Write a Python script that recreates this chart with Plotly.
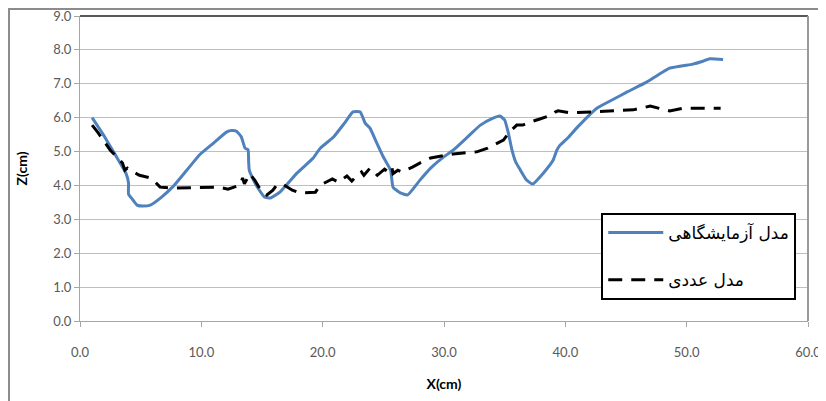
import plotly.graph_objects as go

# Experimental model (blue)
x_exp = [1.0, 2.0, 3.0, 3.8, 4.0, 4.0, 4.3, 4.7, 5.2, 5.8, 6.7, 7.7, 8.8, 9.9, 11.0, 12.1, 12.5, 12.9,
         13.3, 13.6, 13.85, 13.9, 13.95, 14.3, 14.8, 15.2, 15.7, 16.5, 17.9, 19.2, 19.8, 20.9, 21.8,
         22.5, 23.1, 23.5, 23.9, 24.4, 25.0, 25.6, 25.8, 26.4, 27.0, 28.0, 28.9, 30.0, 30.75, 32.0,
         33.0, 34.0, 34.6, 35.0, 35.3, 35.6, 35.9, 36.3, 36.8, 37.3, 38.2, 39.0, 39.3, 39.5, 40.2,
         41.0, 42.6, 44.0, 45.1, 46.7, 48.6, 50.5, 51.2, 51.9, 53.0]
z_exp = [6.0, 5.45, 4.85, 4.35, 4.07, 3.75, 3.6, 3.42, 3.39, 3.42, 3.65, 3.98, 4.45, 4.92, 5.25, 5.58,
         5.62, 5.6, 5.43, 5.1, 5.05, 4.7, 4.45, 4.16, 3.85, 3.66, 3.63, 3.81, 4.37, 4.8, 5.1, 5.43,
         5.84, 6.17, 6.17, 5.84, 5.69, 5.3, 4.84, 4.45, 3.95, 3.78, 3.72, 4.15, 4.51, 4.85, 5.04,
         5.45, 5.78, 5.98, 6.05, 5.93, 5.55, 5.05, 4.7, 4.45, 4.16, 4.04, 4.37, 4.75, 5.04, 5.16,
         5.4, 5.72, 6.28, 6.55, 6.76, 7.05, 7.46, 7.58, 7.65, 7.74, 7.72]

# Numerical model (black dashed)
x_num = [1.0, 1.5, 2.5, 3.5, 3.7, 3.9, 4.1, 4.9, 5.8, 6.2, 6.6, 7.7, 11.5, 12.2, 13.2, 13.4, 13.55,
         14.0, 14.4, 14.8, 15.4, 15.9, 16.2, 16.7, 17.5, 18.1, 19.4, 19.8, 20.8, 21.3, 22.0, 22.4,
         22.8, 23.2, 23.4, 23.9, 24.5, 25.1, 25.4, 25.7, 25.8, 26.2, 26.5, 27.4, 28.0, 28.9, 30.75,
         32.7, 33.6, 34.5, 34.9, 35.4, 36.0, 36.5, 37.1, 37.9, 38.9, 39.2, 39.4, 40.4, 42.3, 43.9,
         45.6, 47.0, 47.8, 48.6, 49.7, 52.8]
z_num = [5.78, 5.55, 5.04, 4.66, 4.45, 4.51, 4.45, 4.3, 4.22, 4.1, 3.95, 3.92, 3.95, 3.89, 4.01,
         4.22, 4.05, 4.34, 4.16, 3.92, 3.72, 3.86, 4.01, 4.04, 3.86, 3.78, 3.8, 4.01, 4.19, 4.1,
         4.28, 4.13, 4.28, 4.4, 4.3, 4.51, 4.3, 4.48, 4.4, 4.54, 4.35, 4.45, 4.4, 4.54, 4.66, 4.81,
         4.93, 4.99, 5.1, 5.28, 5.34, 5.58, 5.78, 5.78, 5.87, 5.96, 6.08, 6.17, 6.2, 6.14, 6.17,
         6.2, 6.23, 6.34, 6.28, 6.2, 6.28, 6.28]

x_ticks = [0, 10, 20, 30, 40, 50, 60]
y_ticks = [0, 1, 2, 3, 4, 5, 6, 7, 8, 9]
name_exp = "مدل آزمایشگاهی"
name_num = "مدل عددی"

fig = go.Figure()
fig.add_trace(go.Scatter(x=x_exp, y=z_exp, mode="lines", name=name_exp, legendgroup="a",
                         line=dict(color="#4F81BD", width=3, shape="spline", smoothing=0.4)))
fig.add_trace(go.Scatter(x=x_num, y=z_num, mode="lines", name=name_num, legendgroup="b",
                         line=dict(color="black", width=3, dash="14px,9px")))

tickfont = dict(family="Lato, Liberation Sans, sans-serif", size=13, color="#595959")
fig.update_layout(
    width=818, height=393,
    margin=dict(l=72, r=18, t=8, b=80),
    paper_bgcolor="white", plot_bgcolor="white",
    showlegend=True,
    legend=dict(x=0.716, y=0.354, xanchor="left", yanchor="top",
                bgcolor="white", bordercolor="black", borderwidth=2,
                font=dict(family="DejaVu Sans, sans-serif", size=17, color="black"),
                tracegroupgap=22, itemwidth=55),
    xaxis=dict(range=[0, 60], tickvals=x_ticks, ticktext=[f"{v:.1f}" for v in x_ticks],
               showgrid=False, zeroline=False, showline=True, linecolor="#A6A6A6", linewidth=1,
               ticks="outside", ticklen=5, tickcolor="#A6A6A6", tickfont=tickfont,
               ticklabelstandoff=14, automargin=False, ticklabeloverflow="allow",
               title=dict(text="<b>X(cm)</b>", font=dict(family="Lato, sans-serif", size=14, color="black"),
                          standoff=20)),
    yaxis=dict(range=[0, 9], tickvals=y_ticks, ticktext=[f"{v:.1f}" for v in y_ticks],
               showgrid=True, gridcolor="#BFBFBF", gridwidth=1, zeroline=False,
               showline=True, linecolor="#A6A6A6", linewidth=1, automargin=False,
               ticklabeloverflow="allow",
               ticks="outside", ticklen=5, tickcolor="#A6A6A6", tickfont=tickfont,
               title=dict(text="<b>Z(cm)</b>", font=dict(family="Lato, sans-serif", size=14, color="black"),
                          standoff=22)),
)

# top border line (dark) and right border (gray) of plot area
fig.add_shape(type="line", xref="paper", yref="paper", x0=0, x1=1, y0=1, y1=1,
              line=dict(color="#222222", width=1.5))
fig.add_shape(type="line", xref="paper", yref="paper", x0=1, x1=1, y0=0, y1=1,
              line=dict(color="#999999", width=2))
# outer chart border
fig.add_shape(type="rect", xref="paper", yref="paper", x0=-0.0975, x1=1.05, y0=-0.35, y1=1.023,
              line=dict(color="#8C8C8C", width=2), fillcolor="rgba(0,0,0,0)")

fig.write_html("out.html")
